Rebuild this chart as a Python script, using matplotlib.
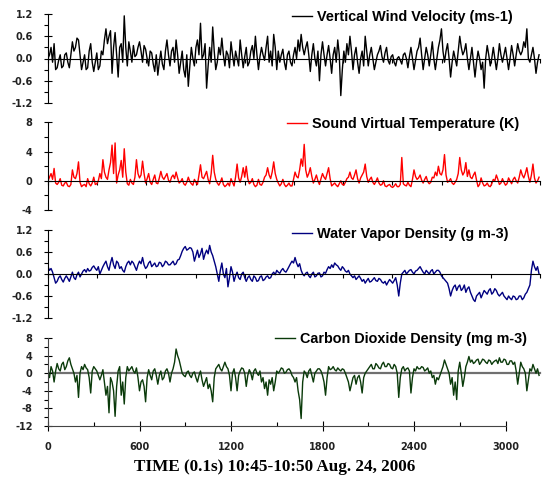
import matplotlib
matplotlib.use('Agg')
import matplotlib.pyplot as plt
import numpy as np
from matplotlib.ticker import MultipleLocator, FormatStrFormatter

plt.rcParams['axes.unicode_minus'] = False

# samples, one value every 10 steps (1 s)
step = 10
w = [0.0, 0.1, 0.3, -0.1, 0.4, -0.3, -0.25, -0.05, 0.1, -0.25,
     -0.2, 0.1, 0.15, -0.1, -0.25, 0.1, 0.45, 0.2, 0.3, 0.55,
     0.5, 0.1, -0.3, -0.1, 0.1, -0.3, -0.25, 0.2, 0.4, -0.1,
     -0.35, -0.1, 0.15, -0.3, -0.2, 0.2, 0.1, 0.5, 0.8, 0.4,
     0.6, 0.75, -0.4, 0.3, 0.7, 0.1, -0.5, 0.3, 0.4, -0.1,
     1.15, 0.3, -0.2, 0.45, 0.2, -0.1, 0.35, 0.05, 0.1, 0.3,
     0.45, 0.2, -0.1, 0.35, 0.25, 0.0, -0.2, 0.2, 0.15, -0.15,
     -0.35, 0.1, -0.45, -0.1, 0.2, -0.15, -0.3, 0.2, 0.5, 0.1,
     -0.2, 0.2, 0.3, -0.1, 0.5, 0.1, -0.4, -0.1, 0.2, -0.3,
     -0.5, 0.1, -0.75, -0.2, 0.3, 0.0, -0.2, 0.3, 0.5, 0.1,
     0.95, 0.0, 0.1, 0.4, -0.8, -0.2, 0.3, -0.1, 0.85, 0.2,
     -0.3, -0.1, 0.3, 0.1, 0.55, 0.1, -0.2, 0.2, 0.1, -0.25,
     0.45, 0.1, -0.2, 0.2, 0.0, -0.2, 0.5, 0.1, -0.25, 0.05,
     0.3, -0.2, -0.1, 0.2, 0.35, 0.0, 0.6, 0.1, -0.3, 0.05,
     0.3, 0.1, -0.05, 0.3, 0.6, -0.1, 0.2, -0.2, 0.65, 0.3,
     -0.3, 0.2, -0.1, 0.1, 0.25, -0.1, -0.3, 0.1, 0.2, -0.1,
     -0.2, 0.1, 0.3, 0.0, 0.5, 0.2, 0.65, 0.3, 0.1, 0.3,
     0.45, 0.1, -0.35, 0.1, 0.4, 0.0, -0.2, 0.2, -0.6, 0.1,
     0.45, 0.1, -0.2, 0.1, 0.35, 0.0, -0.4, 0.1, 0.3, -0.1,
     0.5, 0.1, -1.0, -0.3, 0.2, -0.1, 0.4, 0.1, 0.6, 0.2,
     -0.3, 0.1, 0.3, -0.1, -0.4, 0.0, 0.2, -0.2, 0.6, 0.2,
     -0.2, 0.1, 0.3, 0.0, -0.3, -0.1, 0.1, 0.2, 0.35, 0.05,
     -0.1, 0.15, 0.3, -0.05, -0.15, 0.05, 0.1, -0.1, -0.2, 0.0,
     0.05, -0.05, -0.15, 0.1, 0.15, 0.0, -0.25, 0.05, 0.3, 0.0,
     -0.3, -0.05, 0.2, 0.3, 0.55, 0.1, -0.3, 0.0, 0.3, 0.1,
     -0.2, 0.1, 0.45, 0.0, -0.3, 0.0, 0.3, 0.5, 0.8, 0.2,
     -0.1, 0.2, 0.4, 0.0, -0.5, -0.1, 0.2, 0.0, -0.2, 0.2,
     0.6, 0.3, 0.1, 0.2, 0.4, 0.0, -0.3, 0.0, 0.3, -0.1,
     -0.5, -0.1, 0.2, 0.0, -0.3, -0.1, -0.8, 0.0, 0.35, 0.1,
     -0.2, 0.0, 0.3, 0.0, -0.3, 0.0, 0.4, 0.1, -0.1, 0.1,
     0.3, 0.0, -0.3, 0.0, 0.35, 0.1, -0.2, 0.1, 0.4, 0.2,
     0.1, 0.2, 0.45, 0.3, 0.8, 0.0, -0.1, 0.1, 0.3, 0.0,
     -0.4, -0.1, 0.1]

ts = [0.0, 0.5, 1.0, 0.2, 1.7, -0.3, -0.5, -0.2, 0.3, -0.6,
      -0.7, -0.3, -0.2, -0.7, -0.8, -0.5, 1.5, 0.5, 0.3, 1.0,
      2.6, -0.2, -0.8, -0.6, -0.5, -0.8, 0.3, -0.4, -0.7, -0.3,
      0.5, -0.5, -0.4, 0.0, 1.0, 0.3, 2.9, 1.2, 0.5, 0.2,
      1.5, 2.5, 4.9, 1.0, 5.2, -0.3, 0.8, 1.5, 2.8, 0.5,
      4.4, 1.2, -0.4, -0.6, 0.2, -0.3, -0.5, 0.5, 2.9, 1.0,
      0.4, 0.8, 2.7, 1.0, -0.3, 0.3, 1.0, -0.2, -0.5, 0.2,
      0.8, -0.3, -0.4, 0.4, 1.3, 0.5, 0.2, 0.6, 1.0, 0.1,
      -0.2, 0.5, 0.8, 0.3, 1.2, 0.4, -0.3, -0.1, 0.3, -0.4,
      -0.6, -0.2, 0.5, -0.1, -0.4, -0.6, 0.2, -0.2, -0.5, 0.8,
      2.2, 0.5, 0.3, 0.8, 1.3, 0.2, -0.4, 1.0, 3.5, 1.2,
      0.2, -0.3, -0.6, -0.2, 0.4, -0.5, -0.8, -0.6, -0.3, -0.7,
      0.3, -0.2, -0.7, 0.5, 2.3, 0.4, -0.2, 0.6, 1.8, 0.5,
      2.0, 0.3, -0.4, -0.2, 0.3, -0.5, -0.8, -0.6, 0.2, -0.5,
      -0.6, -0.2, 0.5, 0.8, 1.8, 0.8, 0.3, 1.2, 2.6, 1.0,
      0.2, -0.3, -0.7, -0.4, 0.2, -0.5, -0.8, -0.6, -0.3, -0.7,
      -0.7, 0.2, 1.2, 0.6, 0.4, 1.5, 3.0, 2.0, 5.0, 1.5,
      0.5, 1.0, 1.8, 0.6, -0.3, 0.2, 0.8, 0.0, -0.5, 0.3,
      1.0, 0.5, 0.2, 1.0, 1.8, 0.3, -0.7, -0.5, -0.3, -0.6,
      -0.8, -0.4, 0.0, -0.5, -0.6, -0.2, 0.3, 0.5, 1.2, 0.4,
      0.2, 0.8, 1.5, 0.3, -0.3, 0.4, 0.8, 1.2, 2.3, 0.6,
      -0.2, 0.2, 0.5, -0.2, -0.5, -0.1, 0.4, -0.3, -0.6, -0.5,
      0.0, -0.7, -0.8, -0.6, -0.5, -0.8, -0.9, -0.7, -0.4, -0.8,
      -0.8, -0.5, 3.2, -0.4, -0.6, -0.7, -0.2, -0.6, -0.8, 0.2,
      1.5, 0.6, 0.2, 0.4, 0.8, 0.1, -0.3, 0.2, 0.6, -0.1,
      -0.4, -0.2, 0.5, 0.4, 1.2, 0.7, 2.0, 1.0, 0.8, 1.5,
      3.6, 0.8, -0.2, 0.0, 0.3, -0.3, -0.5, -0.2, 0.2, 1.0,
      3.2, 1.5, 0.8, 1.2, 2.5, 0.6, 1.5, 0.5, 0.3, 0.8,
      1.2, 0.1, -0.8, -0.5, 0.4, -0.3, -0.7, -0.6, -0.3, -0.7,
      -0.8, -0.4, 0.2, 0.0, 0.8, 0.2, -0.5, -0.3, 0.3, -0.2,
      -0.6, -0.4, 0.4, 0.0, -0.4, 0.2, 0.5, 0.0, -0.3, 0.5,
      1.5, 0.8, 0.4, 1.0, 1.8, 0.6, -0.2, 0.8, 2.3, 0.4,
      -0.3, 0.0, 0.5]

wv = [0.2, 0.1, 0.15, 0.05, -0.1, -0.25, -0.2, -0.1, -0.05, -0.15,
      -0.22, -0.12, -0.05, -0.12, -0.2, -0.08, 0.05, -0.1, -0.15, -0.02,
      0.05, -0.08, 0.0, 0.08, 0.12, 0.05, 0.15, 0.08, 0.1, 0.18,
      0.22, 0.15, 0.1, 0.2, 0.0, 0.1, 0.2, 0.28, 0.35, 0.2,
      0.1, 0.3, 0.45, 0.25, 0.15, 0.35, 0.3, 0.15, 0.2, 0.1,
      0.05, 0.2, 0.3, 0.35, 0.25, 0.35, 0.3, 0.2, 0.1, 0.25,
      0.35, 0.28, 0.45, 0.25, 0.15, 0.2, 0.3, 0.35, 0.2, 0.25,
      0.3, 0.2, 0.22, 0.32, 0.3, 0.2, 0.25, 0.35, 0.32, 0.25,
      0.25, 0.3, 0.35, 0.25, 0.28, 0.38, 0.4, 0.5, 0.62, 0.7,
      0.75, 0.65, 0.68, 0.72, 0.7, 0.6, 0.35, 0.5, 0.65, 0.45,
      0.55, 0.7, 0.4, 0.55, 0.65, 0.55, 0.78, 0.6, 0.5, 0.35,
      0.2, 0.0, -0.2, 0.1, 0.3, 0.0, -0.1, 0.15, -0.35, -0.1,
      0.2, 0.05, -0.2, -0.05, 0.05, -0.1, -0.15, 0.0, 0.05, -0.1,
      -0.2, -0.1, -0.05, -0.15, -0.2, -0.05, -0.1, -0.2, -0.18, -0.08,
      -0.05, -0.18, -0.15, -0.08, -0.05, -0.12, -0.1, 0.0, 0.05, -0.02,
      0.1, 0.05, 0.02, 0.1, 0.15, 0.08, 0.05, 0.12, 0.2, 0.28,
      0.35, 0.3, 0.45, 0.3, 0.2, 0.28, 0.1, 0.0, -0.05, 0.02,
      0.05, -0.05, -0.1, 0.0, 0.05, -0.08, -0.05, 0.02, 0.03, -0.08,
      -0.05, 0.05, 0.02, 0.12, 0.2, 0.15, 0.25, 0.18, 0.3, 0.25,
      0.22, 0.15, 0.1, 0.2, 0.15, 0.08, 0.05, 0.1, 0.0, -0.05,
      -0.1, -0.05, -0.15, -0.1, -0.05, -0.12, -0.2, -0.15, -0.25, -0.18,
      -0.12, -0.22, -0.2, -0.15, -0.1, -0.18, -0.2, -0.12, -0.15, -0.22,
      -0.25, -0.2, -0.3, -0.22, -0.15, -0.2, -0.25, -0.18, -0.1, -0.3,
      -0.6, -0.25, 0.0, 0.05, 0.1, 0.0, 0.05, 0.1, 0.12, 0.05,
      0.0, 0.08, 0.1, 0.15, 0.2, 0.12, 0.05, 0.0, 0.1, 0.05,
      0.0, 0.08, 0.12, 0.0, 0.05, 0.1, 0.1, 0.05, -0.05, -0.1,
      -0.15, -0.2, -0.25, -0.4, -0.6, -0.45, -0.35, -0.3, -0.45, -0.35,
      -0.3, -0.45, -0.4, -0.3, -0.5, -0.4, -0.35, -0.5, -0.6, -0.7,
      -0.75, -0.6, -0.55, -0.5, -0.65, -0.55, -0.45, -0.5, -0.55, -0.45,
      -0.4, -0.55, -0.5, -0.4, -0.45, -0.55, -0.6, -0.55, -0.5, -0.6,
      -0.65, -0.7, -0.6, -0.66, -0.7, -0.6, -0.62, -0.7, -0.68, -0.6,
      -0.6, -0.7, -0.65, -0.55, -0.5, -0.4, -0.3, 0.1, 0.35, 0.2,
      0.1, 0.2, 0.0]

co2 = [0.0, -1.0, 1.5, 0.5, -2.0, 0.5, 2.2, 1.0, 0.5, 2.0,
       2.5, 0.8, 1.5, 2.8, 3.5, 2.0, 1.0, 0.0, -2.0, -0.5,
       -5.5, 0.0, 1.5, 0.8, 2.0, 1.2, 0.8, -1.0, -4.5, 0.5,
       1.5, 1.0, 0.5, -0.5, -1.5, -0.5, 0.8, -2.0, -5.0, -3.0,
       -9.0, -1.0, -2.0, -4.0, -9.8, -3.0, 0.5, 1.5, -5.0, -2.0,
       -7.0, -1.0, 1.5, 0.5, 1.0, 1.5, 0.5, 0.0, 1.2, -1.0,
       -4.0, -2.0, -1.5, -3.0, -6.5, -1.0, 0.8, -0.5, -1.5, 0.5,
       1.0, -0.5, -2.5, -0.5, 0.5, -1.5, -1.0, 0.5, 1.0, 0.0,
       -2.0, 0.0, 1.0, 2.5, 5.5, 4.0, 3.0, 1.5, 0.0, -0.5,
       -0.8, 0.2, 0.5, -0.5, -1.0, 0.0, 0.3, -1.0, -2.0, -0.5,
       0.5, -1.5, -3.0, -2.0, -1.0, -3.5, -2.5, -4.0, -6.5, -1.0,
       1.0, 1.5, 2.0, 1.0, 0.5, 1.5, 2.5, 1.5, 1.0, -0.5,
       -4.0, 0.0, 1.0, -1.0, -4.0, -0.5, 0.5, 1.2, 1.0, 0.0,
       -3.0, -0.5, 0.8, 0.0, -1.5, 0.5, 1.0, 0.0, -0.5, 0.5,
       -2.0, -1.0, -3.5, -2.0, -5.0, -1.5, -2.5, -1.0, -4.0, -2.0,
       0.5, 0.0, 0.5, 1.2, 1.0, 0.0, 0.2, 0.8, 1.0, 0.5,
       -0.5, -1.0, -2.0, -1.0, -4.0, -6.0, -10.3, -2.0, 0.5, 0.0,
       -1.0, 0.5, 1.0, -0.5, -2.0, 0.0, 0.5, 1.0, 1.0, 0.5,
       -0.5, -2.0, -5.0, -1.0, 1.5, 0.8, 1.0, 1.5, 0.8, 0.5,
       1.2, 0.8, 0.5, 1.0, 0.8, 0.0, -1.0, -2.0, -4.0, -2.5,
       -1.0, -0.5, -2.5, -1.0, -0.5, -2.0, -4.5, -1.0, 0.0, 0.5,
       1.0, 1.5, 2.0, 1.0, 1.0, 2.2, 1.8, 1.2, 1.0, 2.0,
       2.5, 1.5, 1.5, 2.2, 2.0, 1.2, 1.0, 2.0, 1.5, 0.0,
       -5.5, -1.0, 1.0, 1.5, 0.5, 1.0, 1.2, 0.5, -4.5, -1.0,
       1.0, 0.5, 1.5, 1.0, 1.0, 1.5, 1.3, 0.5, 0.8, 1.2,
       0.0, 0.5, -1.0, -0.5, -2.5, -1.0, -1.5, -0.5, 0.5, 1.5,
       3.0, 2.0, 1.0, 0.0, -2.5, -1.0, -5.0, -2.0, -6.0, 0.5,
       2.5, 0.0, -3.0, -1.0, 1.5, 2.5, 3.8, 2.5, 3.0, 2.2,
       2.5, 3.0, 3.2, 2.0, 2.5, 3.2, 3.0, 2.5, 2.2, 3.0,
       2.8, 2.0, 2.5, 2.8, 3.0, 2.2, 3.5, 2.5, 2.5, 3.2,
       3.0, 2.0, 2.0, 2.8, 2.8, 2.0, 2.5, 0.5, -2.5, 0.0,
       2.5, 1.5, 1.0, 0.0, -4.0, -1.5, 1.0, 0.5, 2.0, 1.0,
       0.0, 1.0, -0.5]

names = ['Vertical Wind Velocity (ms-1)', 'Sound Virtual Temperature (K)',
         'Water Vapor Density (g m-3)', 'Carbon Dioxide Density (mg m-3)']
colors = ['black', '#ff0000', '#000080', '#0a3a0a']
series = [w, ts, wv, co2]
ylims = [(-1.2, 1.2), (-4, 8), (-1.2, 1.2), (-12, 8)]
ymajor = [0.6, 4, 0.6, 4]
yminor = [0.3, 2, 0.3, 2]
yfmt = ['%.1f', '%d', '%.1f', '%d']
xticks = [0, 600, 1200, 1800, 2400, 3000]
xlabel = 'TIME (0.1s) 10:45-10:50 Aug. 24, 2006'

W, H = 553, 484
fig = plt.figure(figsize=(W / 100, H / 100), dpi=100)

# panel rectangles in pixels: top, bottom
rows = [(14, 103), (122.5, 210), (230, 318), (338, 426)]
left = 48
xmax = 3250
px_per = 0.1525
# legend line start (x) and text centre (y), pixels
legend_xy = [(292, 17), (287, 124), (292, 234), (275, 339)]
tfont = dict(family='DejaVu Sans', weight='bold', size=7)

for k in range(4):
    top, bot = rows[k]
    ax = fig.add_axes([left / W, 1 - bot / H, xmax * px_per / W, (bot - top) / H])
    y = np.array(series[k])
    t = np.arange(len(y)) * step
    line, = ax.plot(t, y, color=colors[k], lw=1.0)
    ax.set_xlim(0, xmax)
    ax.set_ylim(*ylims[k])
    ax.patch.set_visible(False)

    for s in ['top', 'right']:
        ax.spines[s].set_visible(False)
    ax.spines['left'].set_bounds(*ylims[k])
    ax.yaxis.set_major_locator(MultipleLocator(ymajor[k]))
    ax.yaxis.set_minor_locator(MultipleLocator(yminor[k]))
    ax.yaxis.set_major_formatter(FormatStrFormatter(yfmt[k]))
    ax.tick_params(axis='y', which='major', direction='inout', length=6, width=0.8, pad=8)
    ax.tick_params(axis='y', which='minor', direction='out', length=3, width=0.8)
    for lab in ax.get_yticklabels():
        lab.set_fontproperties(tfont)
        lab.set_color('#222222')

    if k < 3:
        # x axis crossing at zero, no labels
        ax.spines['bottom'].set_position(('data', 0))
        ax.spines['bottom'].set_bounds(0, 3226)
        ax.spines['bottom'].set_zorder(3)
        ax.set_xticks(np.arange(11) * 322.6)
        ax.tick_params(axis='x', direction='out', length=3, width=0.8, labelbottom=False)
    else:
        ax.axhline(0, xmin=0, xmax=3226 / xmax, color='#707070', lw=1.6, zorder=1)
        ax.spines['bottom'].set_bounds(0, 3000)
        ax.spines['bottom'].set_color('#444444')
        ax.spines['left'].set_color('#444444')
        ax.set_xticks(xticks)
        ax.xaxis.set_minor_locator(MultipleLocator(300))
        ax.tick_params(axis='x', which='major', direction='inout', length=7, width=0.8, pad=8)
        ax.tick_params(axis='x', which='minor', direction='in', length=3, width=0.8)
        for lab in ax.get_xticklabels():
            lab.set_fontproperties(tfont)
            lab.set_color('#222222')
        ax.set_xlabel(xlabel, fontfamily='Liberation Serif', fontweight='bold',
                      fontsize=12.3, labelpad=4)
        ax.xaxis.set_label_coords((275 - left) / (xmax * px_per), -0.38)

    lx, ly = legend_xy[k]
    ax.legend([line], [names[k]], loc='center left',
              bbox_to_anchor=(lx / W, 1 - ly / H),
              bbox_transform=fig.transFigure, frameon=False,
              handlelength=1.4, handletextpad=0.35, borderpad=0, borderaxespad=0,
              prop=dict(family='Liberation Sans', weight='bold', size=10.4))

fig.savefig('out.png', dpi=100)
